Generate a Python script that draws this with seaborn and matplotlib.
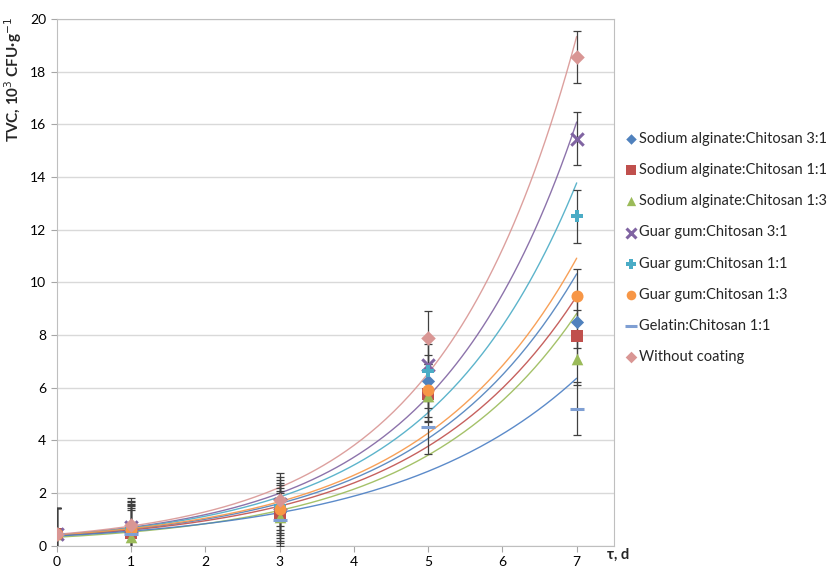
import numpy as np
import pandas as pd
import matplotlib
matplotlib.use("Agg")
import matplotlib.pyplot as plt
import seaborn as sns

# storage time, days
days = [0, 1, 3, 5, 7]

series = [
    "Sodium alginate:Chitosan 3:1",
    "Sodium alginate:Chitosan 1:1",
    "Sodium alginate:Chitosan 1:3",
    "Guar gum:Chitosan 3:1",
    "Guar gum:Chitosan 1:1",
    "Guar gum:Chitosan 1:3",
    "Gelatin:Chitosan 1:1",
    "Without coating",
]

# TVC, 10^3 CFU/g
sa_3_1 = [0.45, 0.55, 1.30, 6.25, 8.50]
sa_1_1 = [0.45, 0.50, 1.20, 5.75, 7.95]
sa_1_3 = [0.45, 0.35, 1.10, 5.70, 7.10]
gg_3_1 = [0.45, 0.70, 1.60, 6.85, 15.45]
gg_1_1 = [0.45, 0.65, 1.50, 6.65, 12.50]
gg_1_3 = [0.45, 0.60, 1.40, 5.90, 9.50]
gel_1_1 = [0.45, 0.45, 1.00, 4.50, 5.20]
no_coat = [0.45, 0.80, 1.75, 7.90, 18.55]
err = [1.0, 1.0, 1.0, 1.0, 1.0]

values = [sa_3_1, sa_1_1, sa_1_3, gg_3_1, gg_1_1, gg_1_3, gel_1_1, no_coat]

marker_colors = ["#4F81BD", "#C0504D", "#9BBB59", "#8064A2",
                 "#4BACC6", "#F79646", "#7F9FD3", "#D99694"]
line_colors = ["#4F81BD", "#C0504D", "#9BBB59", "#8064A2",
               "#4BACC6", "#F79646", "#4A7EC4", "#D99694"]
markers = ["D", "s", "^", "x", "P", "o", "_", "D"]
sizes = [45, 70, 70, 80, 70, 75, 110, 55]

rows = []
for name, vals in zip(series, values):
    for d, v in zip(days, vals):
        rows.append({"series": name, "day": d, "tvc": v})
df = pd.DataFrame(rows)

sns.set_style("white")
plt.rcParams['font.family'] = ['Lato', 'DejaVu Sans']

fig = plt.figure(figsize=(8.34, 5.71), dpi=100)
ax = fig.add_axes([0.068, 0.044, 0.668, 0.923])

# exponential trendlines (least squares on ln y, like Excel)
xs = np.linspace(0, 7, 200)
for name, vals, c in zip(series, values, line_colors):
    b, a = np.polyfit(days, np.log(vals), 1)
    trend = pd.DataFrame({"x": xs, "y": np.exp(a) * np.exp(b * xs)})
    sns.lineplot(data=trend, x="x", y="y", color=c, lw=1.0, ax=ax,
                 legend=False, zorder=2, alpha=0.9)

for name, vals in zip(series, values):
    ax.errorbar(days, vals, yerr=err, fmt="none", ecolor="#404040",
                elinewidth=0.9, capsize=3, capthick=0.9, zorder=3)

for name, mk, c, s in zip(series, markers, marker_colors, sizes):
    sub = df[df["series"] == name]
    lw = 2.2 if mk in ("x", "_") else 0
    sns.scatterplot(data=sub, x="day", y="tvc", marker=mk, color=c, s=s,
                    linewidth=lw, edgecolor=c if lw == 0 else None,
                    ax=ax, label=name, zorder=4)

ax.set_xlim(0, 7.5)
ax.set_ylim(0, 20)
ax.set_xticks(range(0, 8))
ax.set_yticks(range(0, 21, 2))
ax.yaxis.grid(True, color="#D9D9D9", lw=1)
ax.xaxis.grid(False)
for sp in ax.spines.values():
    sp.set_color("#BFBFBF")
ax.tick_params(axis="both", direction="out", length=4, color="#A6A6A6",
               labelsize=10, labelcolor="#000000", left=True, bottom=True)
ax.set_xlabel("")
ax.set_ylabel("TVC, 10$^3$ CFU·g$^{-1}$", fontsize=11, fontweight="bold")
ax.yaxis.set_label_coords(-0.058, 0.885)
fig.text(0.728, 0.022, "τ, d", fontsize=10.5, fontweight="bold")

ax.legend(loc="upper left", bbox_to_anchor=(1.0, 0.805), frameon=False,
          fontsize=10.5, labelspacing=1.18, handletextpad=0.05,
          handlelength=1.0, borderaxespad=0.3, markerscale=0.8)

fig.savefig("out.png", dpi=100)
